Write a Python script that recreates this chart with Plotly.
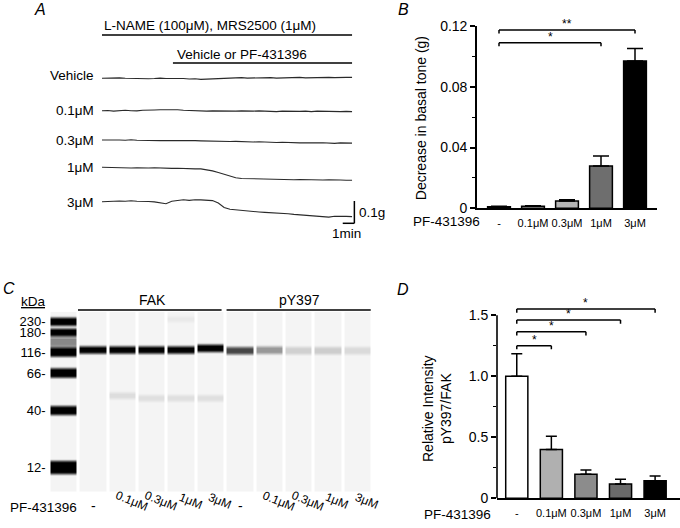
import plotly.graph_objects as go

W, H = 680, 528
FONT = "Liberation Sans, Arial, Helvetica, sans-serif"

# ======================= DATA =======================
# ---- Panel A: tension traces, change from start (g), sampled every 0.5 min ----
a_time_min = [0.0, 0.5, 1.0, 1.5, 2.0, 2.5, 3.0, 3.5, 4.0, 4.5, 5.0, 5.5, 6.0, 6.5,
              7.0, 7.5, 8.0, 8.5, 9.0, 9.5, 10.0, 10.5, 11.0, 11.5, 12.0, 12.5, 13.0,
              13.5, 14.0, 14.5, 15.0, 15.5, 16.0, 16.5, 17.0, 17.5, 18.0, 18.5, 19.0,
              19.5, 20.0, 20.5, 21.0, 21.5]
a_labels = ["Vehicle", "0.1\u03bcM", "0.3\u03bcM", "1\u03bcM", "3\u03bcM"]
a_vehicle = [0, 0.001, -0.001, 0.002, 0, -0.001, 0.001, 0, -0.002,
             -0.001, 0.001, -0.001, 0, -0.002, -0.001, -0.003, -0.002,
             -0.005, -0.004, -0.001, 0.001,
             0, 0.002, 0.001, 0.003, 0.001, 0.002, 0, 0.002, 0.003, 0.001,
             0.002, 0.003, 0.002, 0.004, 0.002, 0.003, 0.005, 0.003, 0.004, 0.003, 0.005, 0.004, 0.004]
a_01uM = [0, 0.001, -0.002, 0.001, 0.002, 0, -0.001, 0.002, 0.001,
          0.003, 0.004, 0.005, 0.003, 0.004, 0.002, 0.001, -0.002,
          -0.003, -0.002, -0.001, -0.002,
          -0.001, -0.003, -0.002, -0.001, -0.003, -0.002, -0.001, -0.003, -0.002, -0.004,
          -0.002, -0.003, -0.001, -0.003, -0.002, -0.004, -0.002, -0.003, -0.005, -0.003, -0.004, -0.003, -0.004]
a_03uM = [0, 0.001, -0.001, 0, -0.001, 0.001, -0.001, -0.002, -0.001,
          -0.002, -0.003, -0.002, -0.004, -0.003, -0.002, -0.004, -0.003,
          -0.004, -0.005, -0.004, -0.006,
          -0.005, -0.007, -0.006, -0.008, -0.007, -0.009, -0.008, -0.010, -0.009, -0.011,
          -0.010, -0.012, -0.011, -0.013, -0.012, -0.014, -0.013, -0.012, -0.014, -0.015, -0.013, -0.015, -0.014]
a_1uM = [0, -0.001, 0.001, -0.002, -0.001, -0.003, -0.002, -0.004, -0.003,
         -0.002, -0.004, -0.003, -0.005, -0.004, -0.006, -0.005, -0.007,
         -0.007, -0.010, -0.016, -0.023,
         -0.031, -0.039, -0.047, -0.050, -0.051, -0.052, -0.053, -0.054, -0.053, -0.055,
         -0.054, -0.055, -0.056, -0.055, -0.056, -0.057, -0.056, -0.057, -0.056, -0.058, -0.057, -0.058, -0.058]
a_3uM = [0, 0.002, 0.001, 0.003, 0.002, 0.004, 0.002, 0.003, 0.001,
         -0.001, -0.006, -0.009, 0.002, 0.007, 0.009, 0.006, 0.009,
         0.008, 0.007, 0.005, -0.006,
         -0.026, -0.034, -0.037, -0.040, -0.042, -0.044, -0.046, -0.048, -0.049, -0.050,
         -0.052, -0.054, -0.057, -0.059, -0.061, -0.064, -0.067, -0.070, -0.069, -0.065, -0.064, -0.066, -0.067]
a_series = [a_vehicle, a_01uM, a_03uM, a_1uM, a_3uM]
a_scale_g = 0.1
a_scale_min = 1.0

# ---- Panel B: decrease in basal tone (g) ----
b_categories = ["-", "0.1\u03bcM", "0.3\u03bcM", "1\u03bcM", "3\u03bcM"]
b_mean = [0.0010, 0.0013, 0.0048, 0.0278, 0.0970]
b_sem = [0.0004, 0.0004, 0.0008, 0.0066, 0.0082]
b_ticks = [0, 0.04, 0.08, 0.12]
b_ticktext = ["0", "0.04", "0.08", "0.12"]
b_minor_ticks = [0.02, 0.06, 0.10]
b_sig = [(0, 3, "*"), (0, 4, "**")]

# ---- Panel C: capillary immunoassay (lane intensities) ----
ladder_kda = [230, 180, 116, 66, 40, 12]
ladder_migration = [10.0, 20.8, 40.3, 61.3, 98.8, 155.8]
ladder_intensity = [1.0, 1.0, 1.0, 1.0, 1.0, 1.0]
ladder_smear_migration = 30.3
ladder_smear_intensity = 0.42
c_lane_labels = ["-", "0.1\u03bcM", "0.3\u03bcM", "1\u03bcM", "3\u03bcM"]
fak_intensity = [0.95, 0.95, 0.95, 0.95, 1.0]
fak_migration = [38.3, 38.3, 38.3, 38.3, 36.6]
py397_intensity = [0.68, 0.36, 0.14, 0.15, 0.10]
py397_migration = [39.0, 38.5, 39.0, 39.0, 39.0]
fak_minor_intensity = [0.0, 0.09, 0.08, 0.08, 0.08]
fak_minor_migration = [85.0, 84.0, 86.6, 86.6, 86.6]
fak_faint230_intensity = [0.0, 0.0, 0.0, 0.04, 0.0]

# ---- Panel D: relative intensity pY397/FAK ----
d_categories = ["-", "0.1\u03bcM", "0.3\u03bcM", "1\u03bcM", "3\u03bcM"]
d_mean = [1.00, 0.40, 0.197, 0.117, 0.144]
d_sem = [0.185, 0.108, 0.035, 0.039, 0.039]
d_ticks = [0, 0.5, 1.0, 1.5]
d_ticktext = ["0", "0.5", "1.0", "1.5"]
d_minor_ticks = [0.25, 0.75, 1.25]
d_sig = [(0, 1, "*"), (0, 2, "*"), (0, 3, "*"), (0, 4, "*")]

# ======================= LAYOUT HELPERS =======================
def dx(px):
    return px / W


def dy(py):
    return 1 - py / H


# Panel A geometry
A_LEFT, A_RIGHT, A_TOP, A_BOTTOM = 102, 395, 20, 245
A_PX_PER_MIN = 11.63
A_PX_PER_G = 223.0
a_baseline_px = [78.3, 110.7, 140.0, 167.3, 201.7]

# Panel B/D geometry
B_colors = ["#ffffff", "#cfcfcf", "#b5b5b5", "#6e6e6e", "#000000"]
D_colors = ["#ffffff", "#b0b0b0", "#8c8c8c", "#6a6a6a", "#000000"]
D_PX_PER_UNIT = 122.0
D_ZERO_PX = 498.3
D_RANGE_TOP = 1.75

fig = go.Figure()

# ---------- Panel A traces ----------
for vals, base in zip(a_series, a_baseline_px):
    off = (A_BOTTOM - base) / A_PX_PER_G
    fig.add_trace(go.Scatter(
        x=a_time_min, y=[off + v for v in vals], mode="lines",
        line=dict(color="#2a2a2a", width=1.1), xaxis="x", yaxis="y",
        hoverinfo="skip", showlegend=False))

# ---------- Panel B bars ----------
fig.add_trace(go.Bar(
    x=b_categories, y=b_mean, width=0.67, xaxis="x2", yaxis="y2",
    marker=dict(color=B_colors, line=dict(color="black", width=1.5)),
    error_y=dict(type="data", array=b_sem, arrayminus=[0] * len(b_sem), symmetric=False,
                 color="black", thickness=1.5, width=8),
    hoverinfo="skip", showlegend=False))

# ---------- Panel C gel heatmap ----------
gel_rows = [r + 0.5 for r in range(180)]


def profile(y, c, half, soft=1.7):
    d = abs(y - c)
    if d <= half - soft:
        return 1.0
    if d >= half + soft:
        return 0.0
    return (half + soft - d) / (2 * soft)


ladder_half = [4.0, 3.8, 4.6, 4.6, 4.4, 6.5]
lane_bands = []
ladder = [(m, hh, i) for m, hh, i in zip(ladder_migration, ladder_half, ladder_intensity)]
ladder.append((ladder_smear_migration, 4.5, ladder_smear_intensity))
lane_bands.append(ladder)
for i in range(5):
    bands = [(fak_migration[i], 3.6, fak_intensity[i]),
             (fak_minor_migration[i], 3.0, fak_minor_intensity[i]),
             (ladder_migration[0] - 2.5, 2.5, fak_faint230_intensity[i])]
    lane_bands.append(bands)
for i in range(5):
    lane_bands.append([(py397_migration[i], 3.6, py397_intensity[i])])

BG = 0.045
z = []
for y in gel_rows:
    row = []
    for bands in lane_bands:
        v = BG + sum(inten * profile(y, c, h) for c, h, inten in bands)
        row.append(min(1.0, v))
    z.append(row)

fig.add_trace(go.Heatmap(
    x=list(range(len(lane_bands))), y=gel_rows, z=z, xaxis="x3", yaxis="y3",
    colorscale=[[0, "#ffffff"], [1, "#000000"]], zmin=0, zmax=1, showscale=False,
    xgap=3, hoverinfo="skip"))

# ---------- Panel D bars ----------
fig.add_trace(go.Bar(
    x=d_categories, y=d_mean, width=0.64, xaxis="x4", yaxis="y4",
    marker=dict(color=D_colors, line=dict(color="black", width=1.5)),
    error_y=dict(type="data", array=d_sem, arrayminus=[0] * len(d_sem), symmetric=False,
                 color="black", thickness=1.5, width=5.5),
    hoverinfo="skip", showlegend=False))

# ======================= SHAPES & ANNOTATIONS =======================
shapes = []
ann = []
LINE = dict(color="black", width=1.5)

def text(x, y, s, size=13.5, xanchor="center", yanchor="middle", xref="paper", yref="paper", **kw):
    d = dict(x=x, y=y, text=s, showarrow=False, xref=xref, yref=yref, xanchor=xanchor,
             yanchor=yanchor, font=dict(family=FONT, size=size, color="black"))
    d.update(kw)
    ann.append(d)

# panel letters
text(dx(40), dy(10), "<i>A</i>", size=16)
text(dx(403), dy(10), "<i>B</i>", size=16)
text(dx(9), dy(288), "<i>C</i>", size=16)
text(dx(403), dy(289), "<i>D</i>", size=16)

# ---- Panel A annotations ----
t_end = a_time_min[-1]
t_drug = 6.1
shapes.append(dict(type="line", xref="x", yref="paper", x0=0, x1=t_end, y0=dy(35), y1=dy(35), line=LINE))
shapes.append(dict(type="line", xref="x", yref="paper", x0=t_drug, x1=t_end, y0=dy(63), y1=dy(63), line=LINE))
text(0, dy(26), "L-NAME (100\u03bcM), MRS2500 (1\u03bcM)", xref="x", xanchor="left")
text(t_drug + 0.15, dy(54), "Vehicle or PF-431396", xref="x", xanchor="left")
label_y = [76, 110.7, 140.7, 167, 202]
for lab, yy in zip(a_labels, label_y):
    text(dx(96), dy(yy), lab, xanchor="right")
# scale bar
sb_x = t_end + 0.2
sb_y0 = (A_BOTTOM - 223.3) / A_PX_PER_G
shapes.append(dict(type="line", xref="x", yref="y", x0=sb_x, x1=sb_x, y0=sb_y0, y1=sb_y0 + a_scale_g,
                   line=dict(color="black", width=1.5)))
shapes.append(dict(type="line", xref="x", yref="y", x0=sb_x - a_scale_min, x1=sb_x, y0=sb_y0, y1=sb_y0,
                   line=dict(color="black", width=1.5)))
text(dx(357), dy(212.5), "0.1g", xanchor="left")
text(dx(346.5), dy(234), "1min")

# ---- Panel B annotations ----
text(dx(421.7), dy(118.5), "Decrease in basal tone (g)", size=14, textangle=-90)
text(dx(481.7), dy(222), "PF-431396", size=13.5, xanchor="right")
b_levels = [0.1090, 0.1174]
for (i, j, s), lv in zip(b_sig, b_levels):
    leg = 0.0024
    for (xa, ya, xb, yb) in [(i, lv - leg, i, lv), (i, lv, j, lv), (j, lv, j, lv - leg)]:
        shapes.append(dict(type="line", xref="x2", yref="y2", x0=xa, x1=xb, y0=ya, y1=yb, line=LINE))
    text((i + j) / 2, lv, s, size=12, xref="x2", yref="y2", yanchor="bottom", yshift=-3)

# ---- Panel C annotations ----
text(dx(33), dy(301.5), "<u>kDa</u>", size=13.5)
shapes.append(dict(type="line", xref="x3", yref="paper", x0=0.47, x1=5.36, y0=dy(310), y1=dy(310), line=LINE))
shapes.append(dict(type="line", xref="x3", yref="paper", x0=5.53, x1=10.44, y0=dy(310), y1=dy(310), line=LINE))
text(3.0, dy(299.5), "FAK", size=14, xref="x3")
text(8.0, dy(299.5), "pY397", size=14, xref="x3")
text(dx(8), dy(507), "PF-431396", size=13.5, xanchor="left")
for g in range(2):
    for k, lab in enumerate(c_lane_labels):
        lane = 1 + g * 5 + k
        if lab == "-":
            text(lane, dy(506), "-", size=14, xref="x3")
        else:
            text(lane, dy(501), lab, size=12, xref="x3", textangle=22, xshift=9)

# ---- Panel D annotations ----
text(dx(437), dy(409), "Relative Intensity<br>pY397/FAK", size=14, textangle=-90)
text(dx(493), dy(514), "PF-431396", size=13.5, xanchor="right")
shapes.append(dict(type="line", xref="x4 domain", yref="y4", x0=0, x1=0, y0=0, y1=d_ticks[-1],
                   line=dict(color="black", width=1.6)))
d_levels = [1.251, 1.365, 1.461, 1.551]
for (i, j, s), lv in zip(d_sig, d_levels):
    leg = 0.03
    for (xa, ya, xb, yb) in [(i, lv - leg, i, lv), (i, lv, j, lv), (j, lv, j, lv - leg)]:
        shapes.append(dict(type="line", xref="x4", yref="y4", x0=xa, x1=xb, y0=ya, y1=yb, line=LINE))
    text((i + j) / 2, lv, s, size=12, xref="x4", yref="y4", yanchor="bottom", yshift=-3)

# ======================= AXES =======================
noax = dict(showgrid=False, zeroline=False, automargin=False)
fig.update_layout(
    width=W, height=H, margin=dict(l=0, r=0, t=0, b=0, autoexpand=False),
    paper_bgcolor="white", plot_bgcolor="white", showlegend=False,
    font=dict(family=FONT, size=14, color="black"),
    xaxis=dict(domain=[dx(A_LEFT), dx(A_RIGHT)], range=[0, (A_RIGHT - A_LEFT) / A_PX_PER_MIN],
               visible=False, anchor="y", **noax),
    yaxis=dict(domain=[dy(A_BOTTOM), dy(A_TOP)], range=[0, (A_BOTTOM - A_TOP) / A_PX_PER_G],
               visible=False, anchor="x", **noax),
    xaxis2=dict(domain=[dx(477), dx(657)], anchor="y2", type="category", range=[-0.647, 4.647],
                showline=True, linecolor="black", linewidth=1.6, ticks="", tickangle=0,
                tickfont=dict(size=11), ticklabelstandoff=4, **noax),
    yaxis2=dict(domain=[dy(208.3), dy(26)], anchor="x2", range=[0, 0.12],
                showline=True, linecolor="black", linewidth=1.6,
                ticks="outside", ticklen=5, tickwidth=1.5, tickcolor="black",
                tickmode="array", tickvals=b_ticks, ticktext=b_ticktext, tickfont=dict(size=14),
                minor=dict(tickmode="array", tickvals=b_minor_ticks, ticks="outside", ticklen=3,
                           tickwidth=1.2, tickcolor="black", showgrid=False),
                **noax),
    xaxis3=dict(domain=[dx(49.5), dx(372.5)], anchor="y3", range=[-0.5, 10.5], visible=False, **noax),
    yaxis3=dict(domain=[dy(491.7), dy(311.7)], anchor="x3", range=[180, 0],
                showline=False, ticks="", tickmode="array", tickvals=ladder_migration,
                ticktext=[f"{k}-" for k in ladder_kda], tickfont=dict(size=13),
                ticklabelstandoff=3, **noax),
    xaxis4=dict(domain=[dx(497), dx(680)], anchor="y4", type="category", range=[-0.572, 4.72],
                showline=True, linecolor="black", linewidth=1.6, ticks="", tickangle=0,
                tickfont=dict(size=11), ticklabelstandoff=4, **noax),
    yaxis4=dict(domain=[dy(D_ZERO_PX), dy(D_ZERO_PX - D_RANGE_TOP * D_PX_PER_UNIT)], anchor="x4",
                range=[0, D_RANGE_TOP], showline=False,
                ticks="outside", ticklen=5, tickwidth=1.5, tickcolor="black",
                tickmode="array", tickvals=d_ticks, ticktext=d_ticktext, tickfont=dict(size=14),
                minor=dict(tickmode="array", tickvals=d_minor_ticks, ticks="outside", ticklen=3,
                           tickwidth=1.2, tickcolor="black", showgrid=False),
                **noax),
    shapes=shapes, annotations=ann,
)

# remove the default 8px page margin so the figure sits at the window origin; hide the modebar
fig.write_html("out.html", config={"displayModeBar": False},
               post_script="document.body.style.margin='0';")
